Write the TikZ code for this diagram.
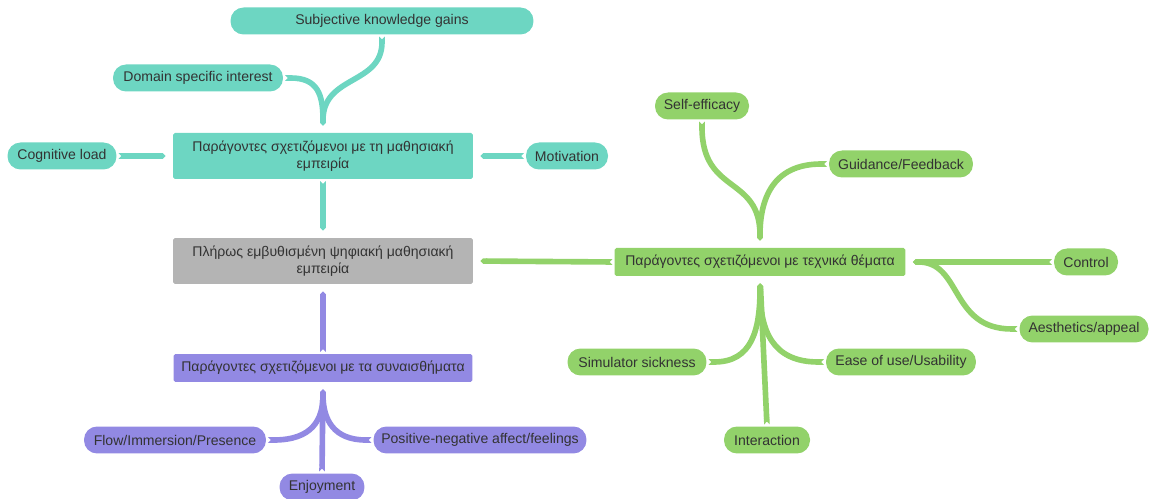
\documentclass[tikz,border=0pt]{standalone}
\usepackage{fontspec}
\setmainfont{Liberation Sans}
\usetikzlibrary{arrows.meta}
\definecolor{tealc}{HTML}{6DD6C2}
\definecolor{greenc}{HTML}{92D26A}
\definecolor{purplec}{HTML}{9289E3}
\definecolor{grayc}{HTML}{B4B4B4}
\definecolor{txt}{HTML}{333333}
\begin{document}
\begin{tikzpicture}[x=0.02cm, y=-0.02cm,
  pill/.style={rounded corners=0.26cm, minimum height=0.54cm, inner xsep=4pt, inner ysep=0pt, text=txt, font=\fontsize{8}{9.5}\selectfont, fill=#1},
  box/.style={rectangle, rounded corners=1pt, minimum width=6cm, inner xsep=2pt, align=center, text=txt, font=\fontsize{8}{10}\selectfont, fill=#1},
  conn/.style={draw=#1, line width=3.2pt, {Triangle Cap[reversed]}-{Triangle Cap}, shorten <=1pt, shorten >=4pt}]
\useasboundingbox (0,0) rectangle (1149,499);
% learning experience
\node[box=tealc, minimum height=0.92cm] (learn) at (323,156) {Παράγοντες σχετιζόμενοι με τη μαθησιακή\\εμπειρία};
\node[pill=tealc, minimum width=6.06cm] (skg) at (382,21) {Subjective knowledge gains};
\node[pill=tealc, minimum width=3.4cm] (dsi) at (198,78) {Domain specific interest};
\node[pill=tealc, minimum width=2.18cm] (cog) at (62,156) {Cognitive load};
\node[pill=tealc, minimum width=1.64cm] (mot) at (567,156) {Motivation};
\draw[conn=tealc] (skg.south) .. controls (382,85) and (323,75) .. (learn.north);
\draw[conn=tealc] (dsi.east) .. controls (318,78) and (323,95) .. (learn.north);
\draw[conn=tealc] (cog.east) -- (learn.west);
\draw[conn=tealc] (mot.west) -- (learn.east);
% central
\node[box=grayc, minimum height=0.92cm] (vr) at (323,261) {Πλήρως εμβυθισμένη ψηφιακή μαθησιακή\\εμπειρία};
\draw[conn=tealc] (learn.south) -- (vr.north);
% emotions
\node[box=purplec, minimum width=5.98cm, minimum height=0.56cm] (emo) at (323,368) {Παράγοντες σχετιζόμενοι με τα συναισθήματα};
\node[pill=purplec, minimum width=3.64cm] (flow) at (175,440) {Flow/Immersion/Presence};
\node[pill=purplec, minimum width=4.26cm] (pos) at (480,440) {Positive-negative affect/feelings};
\node[pill=purplec, minimum width=1.7cm] (enj) at (322,487) {Enjoyment};
\draw[conn=purplec] (emo.north) -- (vr.south);
\draw[conn=purplec] (flow.east) .. controls (312,440) and (323,420) .. (emo.south);
\draw[conn=purplec] (pos.west) .. controls (334,440) and (323,420) .. (emo.south);
\draw[conn=purplec] (enj.north) -- (emo.south);
% technical
\node[box=greenc, minimum width=5.82cm, minimum height=0.56cm] (tech) at (760,262) {Παράγοντες σχετιζόμενοι με τεχνικά θέματα};
\node[pill=greenc, minimum width=1.88cm] (self) at (702,106) {Self-efficacy};
\node[pill=greenc, minimum width=2.88cm] (guid) at (901,164) {Guidance/Feedback};
\node[pill=greenc, minimum width=1.28cm] (ctrl) at (1086,262) {Control};
\node[pill=greenc, minimum width=2.58cm] (aest) at (1084,329) {Aesthetics/appeal};
\node[pill=greenc, minimum width=2.78cm] (sim) at (637,362) {Simulator sickness};
\node[pill=greenc, minimum width=3cm] (ease) at (901,362) {Ease of use/Usability};
\node[pill=greenc, minimum width=1.72cm] (inter) at (767,440) {Interaction};
\draw[conn=greenc] (tech.west) -- (vr.east);
\draw[conn=greenc] (self.south) .. controls (702,195) and (760,175) .. (tech.north);
\draw[conn=greenc] (guid.west) .. controls (772,164) and (760,200) .. (tech.north);
\draw[conn=greenc] (ctrl.west) -- (tech.east);
\draw[conn=greenc] (aest.west) .. controls (950,329) and (962,262) .. (tech.east);
\draw[conn=greenc] (sim.east) .. controls (752,362) and (760,330) .. (tech.south);
\draw[conn=greenc] (ease.west) .. controls (772,362) and (760,330) .. (tech.south);
\draw[conn=greenc] (inter.north) -- (tech.south);
\end{tikzpicture}
\end{document}
